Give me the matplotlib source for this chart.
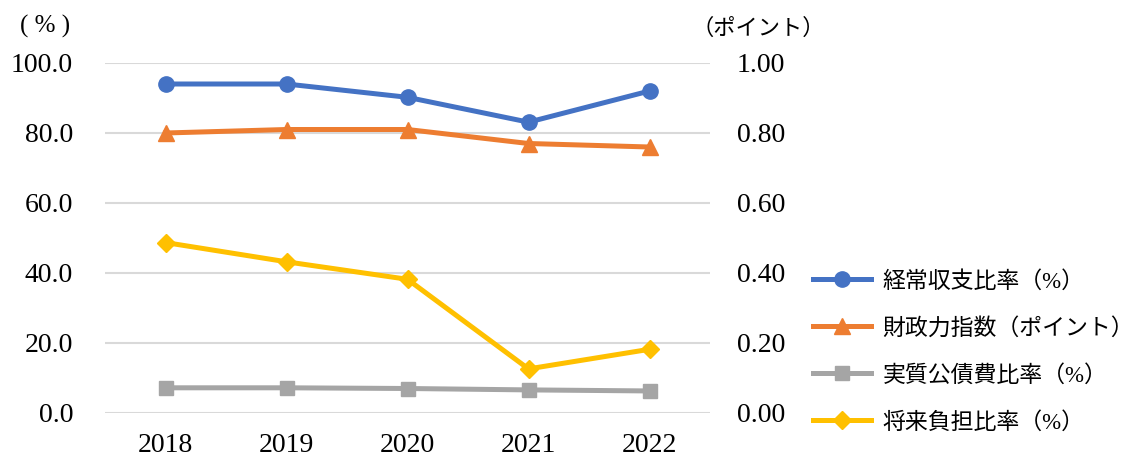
import matplotlib
matplotlib.use("Agg")
import matplotlib.pyplot as plt
from matplotlib.lines import Line2D

years = ["2018", "2019", "2020", "2021", "2022"]
keijo = [94.0, 94.0, 90.2, 83.1, 92.0]          # 経常収支比率 (%)
zaisei = [0.80, 0.81, 0.81, 0.77, 0.76]         # 財政力指数 (ポイント)
kosaihi = [7.2, 7.2, 7.0, 6.6, 6.3]             # 実質公債費比率 (%)
shorai = [48.7, 43.2, 38.2, 12.6, 18.2]         # 将来負担比率 (%)

left_ticks = [0, 20, 40, 60, 80, 100]
right_ticks = [0.0, 0.2, 0.4, 0.6, 0.8, 1.0]

plt.rcParams['font.family'] = ['Liberation Serif', 'Noto Sans CJK JP', 'DejaVu Sans']

fig = plt.figure(figsize=(11.37, 4.59), dpi=100)
ax = fig.add_axes([105 / 1137, 46 / 459, 605 / 1137, 350 / 459])
ax2 = ax.twinx()

x = list(range(len(years)))
blue, orange, gray, yellow = "#4472C4", "#ED7D31", "#A5A5A5", "#FFC000"
lw = 3.6

ax.plot(x, keijo, color=blue, lw=lw, marker="o", ms=11, zorder=3)
ax.plot(x, kosaihi, color=gray, lw=lw, marker="s", ms=10.5, zorder=3)
ax.plot(x, shorai, color=yellow, lw=lw, marker="D", ms=9, zorder=3)
ax2.plot(x, zaisei, color=orange, lw=lw, marker="^", ms=11, zorder=3)

ax.set_xlim(-0.5, len(years) - 0.5)
ax.set_ylim(0, 100)
ax2.set_ylim(0, 1.0)
ax.set_yticks(left_ticks)
ax.set_yticklabels([f"{v:.1f}" for v in left_ticks])
ax2.set_yticks(right_ticks)
ax2.set_yticklabels([f"{v:.2f}" for v in right_ticks])
ax.set_xticks(x)
ax.set_xticklabels(years)

for a in (ax, ax2):
    for s in a.spines.values():
        s.set_visible(False)
    a.tick_params(length=0, labelsize=20, colors="#000000")
ax.tick_params(axis="y", pad=23)
ax2.tick_params(axis="y", pad=19.5)
ax.tick_params(axis="x", pad=14.5)
ax.grid(axis="y", color="#D9D9D9", lw=1.5)
ax.set_axisbelow(True)

fig.text(45 / 1137, 1 - 26 / 459, "( % )", fontsize=18, ha="center", va="center")
fig.text(758 / 1137, 1 - 29 / 459, "（ポイント）", fontsize=16, ha="center", va="center")

handles = [
    Line2D([], [], color=blue, lw=lw, marker="o", ms=11),
    Line2D([], [], color=orange, lw=lw, marker="^", ms=11),
    Line2D([], [], color=gray, lw=lw, marker="s", ms=10.5),
    Line2D([], [], color=yellow, lw=lw, marker="D", ms=9),
]
labels = ["経常収支比率（%）", "財政力指数（ポイント）", "実質公債費比率（%）", "将来負担比率（%）"]
fig.legend(handles, labels, loc="center left", bbox_to_anchor=(792 / 1137, 1 - 352 / 459),
           frameon=False, fontsize=16.5, handlelength=2.55, labelspacing=1.1, handletextpad=0.5)

fig.savefig("out.png", dpi=100)
